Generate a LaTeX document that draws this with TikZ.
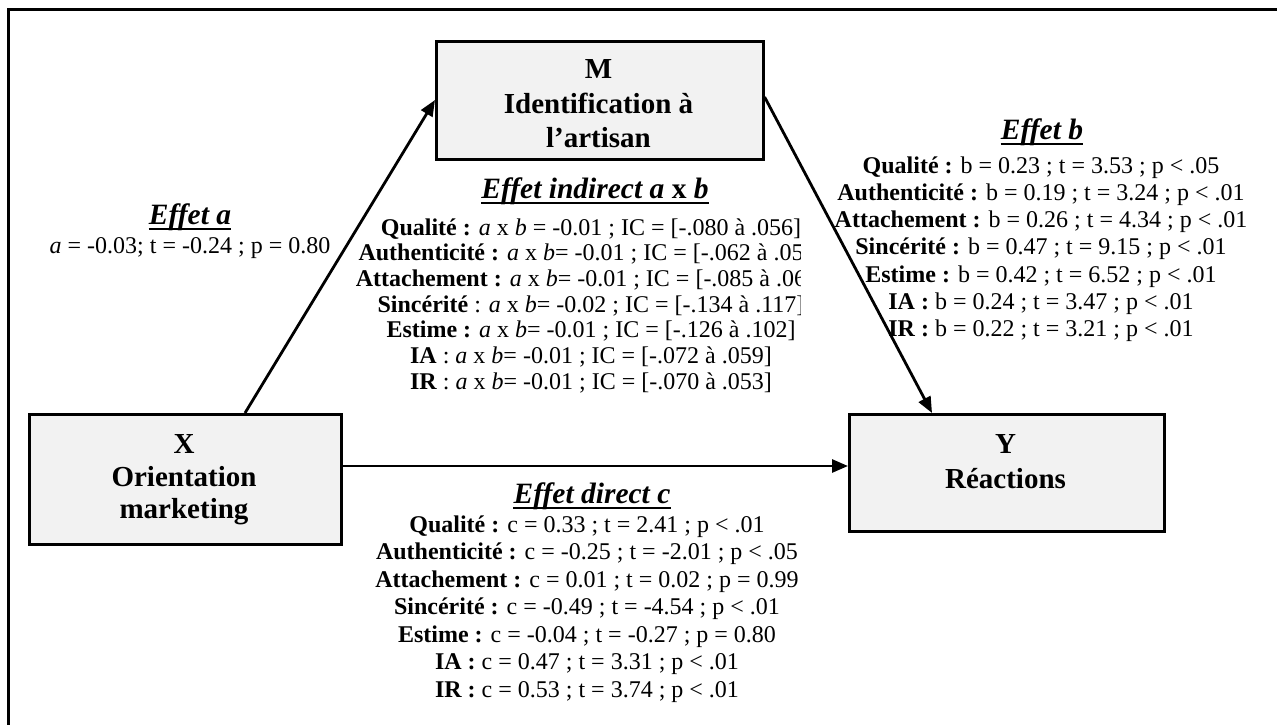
\documentclass[tikz,border=0pt]{standalone}
\usepackage{fontspec}
\setmainfont{Liberation Serif}
\usetikzlibrary{arrows.meta}
\definecolor{boxgray}{HTML}{F2F2F2}
\newcommand\bodyf{\fontsize{24}{27}\selectfont}
\newcommand\titlef{\fontsize{29.5}{34}\selectfont\bfseries\itshape}
\newcommand\boxf{\fontsize{29}{34}\selectfont\bfseries}
\begin{document}
\begin{tikzpicture}[x=1pt,y=-1pt,
  frame/.style={line width=3pt},
  boxnode/.style={draw, line width=2.6pt, fill=boxgray, inner sep=0pt, anchor=north west},
  boxtxt/.style={font=\boxf, anchor=base, inner sep=0pt},
  ln/.style={font=\bodyf, anchor=base, inner sep=0pt},
  ttl/.style={font=\titlef, anchor=base, inner sep=0pt},
  ul/.style={line width=2.6pt},
  arr/.style={line width=2.8pt, -{Triangle[length=16pt,width=13pt]}}]
\useasboundingbox (0,0) rectangle (1277,725);
\fill[white] (0,0) rectangle (1277,725);
% outer frame (top and left sides visible)
\draw[frame] (8,735) -- (8,10) -- (1290,10);

% boxes
\node[boxnode, minimum width=327pt, minimum height=118pt] (M) at (435,40) {};
\node[boxnode, minimum width=312pt, minimum height=130pt] (X) at (28,413) {};
\node[boxnode, minimum width=315pt, minimum height=117pt] (Y) at (848,413) {};

\node[boxtxt] (m1) at (598.5,78) {M};
\node[boxtxt] (m2) at (598.5,113) {Identification à};
\node[boxtxt] (m3) at (598.5,147) {l’artisan};
\node[boxtxt] (x1) at (184,453) {X};
\node[boxtxt] (x2) at (184,486) {Orientation};
\node[boxtxt] (x3) at (184,518) {marketing};
\node[boxtxt] (y1) at (1005.5,453) {Y};
\node[boxtxt] (y2) at (1005.5,488) {Réactions};

% Effet a
\node[ttl] (ta) at (190,224.5) {Effet a};
\draw[ul] ([yshift=-4.5pt]ta.base west) -- ([yshift=-4.5pt]ta.base east);
\node[ln] (a1) at (190,253) {\textit{a} = -0.03; t = -0.24 ; p = 0.80};

% Effet b
\node[ttl] (tb) at (1042,139.5) {Effet b};
\draw[ul] ([yshift=-4.5pt]tb.base west) -- ([yshift=-4.5pt]tb.base east);
\node[ln] (b1) at (1041,173.0) {\textbf{Qualité :} b = 0.23 ; t = 3.53 ; p < .05};
\node[ln] (b2) at (1041,200.3) {\textbf{Authenticité :} b = 0.19 ; t = 3.24 ; p < .01};
\node[ln] (b3) at (1041,227.6) {\textbf{Attachement :} b = 0.26 ; t = 4.34 ; p < .01};
\node[ln] (b4) at (1041,254.9) {\textbf{Sincérité :} b = 0.47 ; t = 9.15 ; p < .01};
\node[ln] (b5) at (1041,282.2) {\textbf{Estime :} b = 0.42 ; t = 6.52 ; p < .01};
\node[ln] (b6) at (1041,309.5) {\textbf{IA :} b = 0.24 ; t = 3.47 ; p < .01};
\node[ln] (b7) at (1041,336.8) {\textbf{IR :} b = 0.22 ; t = 3.21 ; p < .01};

% Effet indirect
\node[ttl] (ti) at (595,198.5) {Effet indirect a \textup{x} b};
\draw[ul] ([yshift=-4.5pt]ti.base west) -- ([yshift=-4.5pt]ti.base east);
\begin{scope}
\clip (0,150) rectangle (800,420);
\node[ln] (i1) at (591,235.0) {\textbf{Qualité :} \textit{a} x \textit{b} = -0.01 ; IC = [-.080 à .056]};
\node[ln] (i2) at (591,260.7) {\textbf{Authenticité :} \textit{a} x \textit{b}= -0.01 ; IC = [-.062 à .05\phantom{0]}};
\node[ln] (i3) at (591,286.4) {\textbf{Attachement :} \textit{a} x \textit{b}= -0.01 ; IC = [-.085 à .06\phantom{0]}};
\node[ln] (i4) at (591,312.1) {\textbf{Sincérité} : \textit{a} x \textit{b}= -0.02 ; IC = [-.134 à .117]};
\node[ln] (i5) at (591,337.8) {\textbf{Estime :} \textit{a} x \textit{b}= -0.01 ; IC = [-.126 à .102]};
\node[ln] (i6) at (591,363.5) {\textbf{IA} : \textit{a} x \textit{b}= -0.01 ; IC = [-.072 à .059]};
\node[ln] (i7) at (591,389.2) {\textbf{IR} : \textit{a} x \textit{b}= -0.01 ; IC = [-.070 à .053]};
\end{scope}

% Effet direct
\node[ttl] (tc) at (592,503.5) {Effet direct c};
\draw[ul] ([yshift=-4.5pt]tc.base west) -- ([yshift=-4.5pt]tc.base east);
\node[ln] (c1) at (587,532.0) {\textbf{Qualité :} c = 0.33 ; t = 2.41 ; p < .01};
\node[ln] (c2) at (587,559.5) {\textbf{Authenticité :} c = -0.25 ; t = -2.01 ; p < .05};
\node[ln] (c3) at (587,587.0) {\textbf{Attachement :} c = 0.01 ; t = 0.02 ; p = 0.99};
\node[ln] (c4) at (587,614.5) {\textbf{Sincérité :} c = -0.49 ; t = -4.54 ; p < .01};
\node[ln] (c5) at (587,642.0) {\textbf{Estime :} c = -0.04 ; t = -0.27 ; p = 0.80};
\node[ln] (c6) at (587,669.5) {\textbf{IA :} c = 0.47 ; t = 3.31 ; p < .01};
\node[ln] (c7) at (587,697.0) {\textbf{IR :} c = 0.53 ; t = 3.74 ; p < .01};

% connectors
\draw[arr] ([xshift=217pt]X.north west) -- ([yshift=-60pt]M.north west);
\draw[arr] ([yshift=-57pt]M.north east) -- ([xshift=84pt]Y.north west);
\draw[arr] ([yshift=-53pt]X.north east) -- ([yshift=-53pt]Y.north west);
\end{tikzpicture}
\end{document}
